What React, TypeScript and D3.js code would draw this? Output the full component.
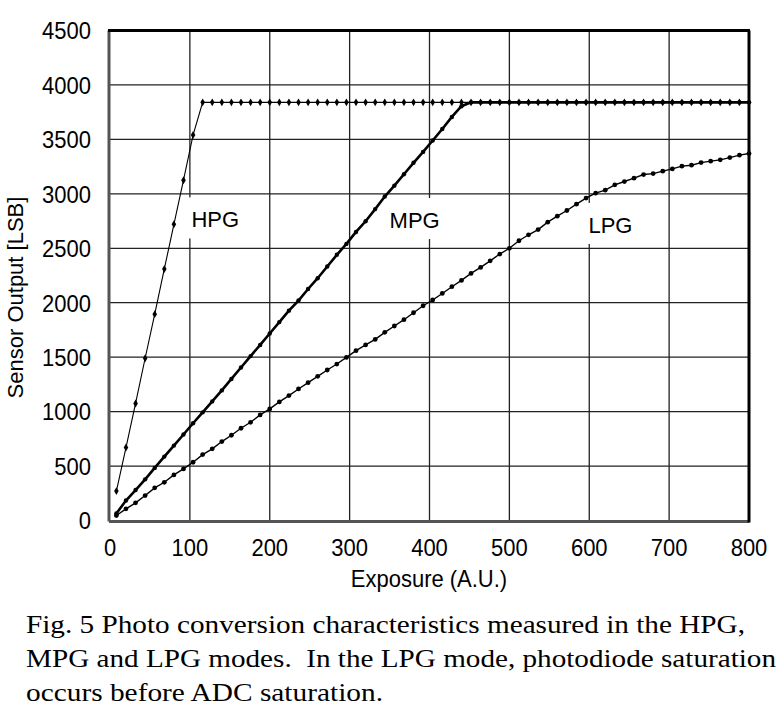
import React from 'react';
import * as d3 from 'd3';

// exposure steps shared by all three modes
const exposure = [
  8, 20, 32, 44, 56, 68, 80, 92, 104, 116, 128, 140, 152, 164, 176, 188, 200, 212, 224,
  236, 248, 260, 272, 284, 296, 308, 320, 332, 344, 356, 368, 380, 392, 404, 416, 428,
  440, 452, 464, 476, 488, 500, 512, 524, 536, 548, 560, 572, 584, 596, 608, 620, 632,
  644, 656, 668, 680, 692, 704, 716, 728, 740, 752, 764, 776, 788, 800,
];

const hpg = [
  270, 670, 1075, 1490, 1895, 2310, 2720, 3125, 3540, 3840, 3840, 3840, 3840, 3840, 3840,
  3840, 3840, 3840, 3840, 3840, 3840, 3840, 3840, 3840, 3840, 3840, 3840, 3840, 3840, 3840,
  3840, 3840, 3840, 3840, 3840, 3840, 3840, 3840, 3840, 3840, 3840, 3840, 3840, 3840, 3840,
  3840, 3840, 3840, 3840, 3840, 3840, 3840, 3840, 3840, 3840, 3840, 3840, 3840, 3840, 3840,
  3840, 3840, 3840, 3840, 3840, 3840, 3840,
];

const mpg = [
  65, 183, 280, 378, 483, 587, 688, 790, 893, 993, 1094, 1195, 1300, 1405, 1510, 1612,
  1717, 1822, 1927, 2020, 2126, 2225, 2333, 2440, 2540, 2650, 2748, 2860, 2975, 3075,
  3180, 3285, 3385, 3490, 3595, 3706, 3805, 3840, 3840, 3840, 3840, 3840, 3840, 3840,
  3840, 3840, 3840, 3840, 3840, 3840, 3840, 3840, 3840, 3840, 3840, 3840, 3840, 3840,
  3840, 3840, 3840, 3840, 3840, 3840, 3840, 3840, 3840,
];

const lpg = [
  46, 107, 162, 229, 300, 351, 419, 474, 535, 605, 658, 725, 783, 847, 902, 970, 1025,
  1089, 1147, 1208, 1266, 1324, 1382, 1437, 1498, 1560, 1612, 1663, 1728, 1786, 1844,
  1908, 1972, 2025, 2085, 2147, 2205, 2269, 2324, 2385, 2447, 2500, 2569, 2624, 2672,
  2740, 2795, 2847, 2905, 2961, 3006, 3034, 3083, 3113, 3144, 3177, 3186, 3208, 3229,
  3254, 3263, 3287, 3300, 3312, 3333, 3355, 3370,
];

const xTicks = [0, 100, 200, 300, 400, 500, 600, 700, 800];
const yTicks = [0, 500, 1000, 1500, 2000, 2500, 3000, 3500, 4000, 4500];

const modeLabels = [
  { text: 'HPG', x: 102, y: 2756, w: 62 },
  { text: 'MPG', x: 350, y: 2750, w: 58 },
  { text: 'LPG', x: 599, y: 2705, w: 55 },
];

const caption = [
  'Fig. 5 Photo conversion characteristics measured in the HPG,',
  'MPG and LPG modes.  In the LPG mode, photodiode saturation',
  'occurs before ADC saturation.',
];
const captionWidths = [719, 750, 357];

const W = 779;
const H = 725;
const left = 110, right = 749, top = 30.5, bottom = 520.5;

const sans = '"Liberation Sans", Arial, sans-serif';
const serif = '"Liberation Serif", "Times New Roman", serif';

// text stretched a little vertically, like the reference scan
const T: React.FC<{ x: number; y: number; anchor?: string; size?: number; sy?: number; children: React.ReactNode }> =
  ({ x, y, anchor = 'start', size = 22, sy = 1.08, children }) => (
    <text transform={`translate(${x},${y}) scale(1,${sy})`} textAnchor={anchor}
      fontFamily={sans} fontSize={size} fill="#000">{children}</text>
  );

const App: React.FC = () => {
  const x = d3.scaleLinear().domain([0, 800]).range([left, right]);
  const y = d3.scaleLinear().domain([0, 4500]).range([bottom, top]);

  const line = d3.line<[number, number]>()
    .x(d => x(d[0]))
    .y(d => y(d[1]));

  const pts = (vals: number[]) => exposure.map((e, i) => [e, vals[i]] as [number, number]);

  const diamond = d3.symbol().type(d3.symbolDiamond).size(18)();

  return (
    <svg width={W} height={H} style={{ position: 'absolute', left: 0, top: 0, display: 'block', background: '#fff' }}>
      {/* grid */}
      {xTicks.slice(1, -1).map(t => (
        <line key={'gx' + t} x1={x(t)} x2={x(t)} y1={top} y2={bottom} stroke="#222" strokeWidth={1.3} />
      ))}
      {yTicks.slice(1, -1).map(t => (
        <line key={'gy' + t} x1={left} x2={right} y1={y(t)} y2={y(t)} stroke="#222" strokeWidth={1.3} />
      ))}

      {/* white boxes behind the mode labels */}
      {modeLabels.map(l => (
        <rect key={'bg' + l.text} x={x(l.x) - 6} y={y(l.y) + 7 - 30} width={l.w} height={41} fill="#fff" />
      ))}

      {/* frame */}
      <line x1={left - 1} x2={left - 1} y1={top} y2={bottom + 1} stroke="#555" strokeWidth={3} />
      <line x1={left - 1} x2={right} y1={bottom + 1} y2={bottom + 1} stroke="#555" strokeWidth={3} />
      <line x1={left - 2} x2={right + 1} y1={top} y2={top} stroke="#000" strokeWidth={3} />
      <line x1={right} x2={right} y1={top} y2={bottom + 2} stroke="#000" strokeWidth={3} />

      {/* series */}
      <path d={line(pts(lpg)) || ''} fill="none" stroke="#000" strokeWidth={1.4} />
      <path d={line(pts(mpg)) || ''} fill="none" stroke="#000" strokeWidth={2.6} />
      <path d={line(pts(hpg)) || ''} fill="none" stroke="#000" strokeWidth={1.1} />
      {pts(lpg).map((d, i) => (
        <circle key={'l' + i} cx={x(d[0])} cy={y(d[1])} r={2.4} fill="#000" />
      ))}
      {pts(mpg).map((d, i) => (
        <circle key={'m' + i} cx={x(d[0])} cy={y(d[1])} r={2.2} fill="#000" />
      ))}
      {pts(hpg).map((d, i) => (
        <path key={'h' + i} d={diamond || ''} transform={`translate(${x(d[0])},${y(d[1])})`} fill="#000" />
      ))}

      {/* mode labels */}
      {modeLabels.map(l => (
        <T key={l.text} x={x(l.x)} y={y(l.y) + 7} sy={1}>{l.text}</T>
      ))}

      {/* tick labels */}
      {yTicks.map(t => (
        <T key={'ty' + t} x={91} y={y(t) + 8.8} anchor="end">{t}</T>
      ))}
      {xTicks.map(t => (
        <T key={'tx' + t} x={x(t)} y={555.7} anchor="middle">{t}</T>
      ))}

      {/* axis titles */}
      <T x={429} y={586.7} anchor="middle">Exposure (A.U.)</T>
      <text transform={`translate(23,${(top + bottom) / 2 + 22}) rotate(-90)`} textAnchor="middle"
        fontFamily={sans} fontSize={22} fill="#000">Sensor Output [LSB]</text>

      {/* caption */}
      {caption.map((c, i) => (
        <text key={'c' + i} x={26} y={633.3 + i * 34} fontFamily={serif} fontSize={25}
          textLength={captionWidths[i]} lengthAdjust="spacingAndGlyphs"
          fill="#000" style={{ whiteSpace: 'pre' }}>{c}</text>
      ))}
    </svg>
  );
};

export default App;
